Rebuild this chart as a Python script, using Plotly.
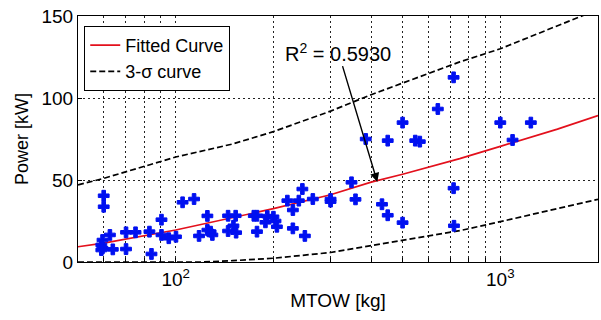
import math
import plotly.graph_objects as go

# Data points (MTOW [kg], Power [kW])
mtow = [60.0, 60.0, 62.7, 59.5, 59.0, 59.5, 59.0, 64.0, 70.3, 70.3, 75.2, 83.0, 84.2,
        90.4, 90.4, 95.2, 100.2, 105.0, 113.9, 118.0, 125.2, 125.2, 128.1, 129.7,
        145.0, 153.0, 150.6, 145.0, 153.5, 174.0, 178.0, 178.0, 189.0, 191.5, 200.0,
        203.0, 205.0, 220.8, 229.6, 229.6, 239.5, 245.6, 250.0, 264.5, 300.0, 300.0,
        348.0, 358.0, 385.0, 432.0, 450.0, 450.0, 500.0, 500.0, 547.0, 565.0, 642.0,
        718.0, 718.0, 720.0, 1000.0, 1091.0, 1242.0]
power = [40.4, 33.7, 16.5, 13.4, 10.4, 8.4, 7.3, 7.7, 18.1, 7.9, 18.1, 18.5, 4.9,
         25.8, 16.5, 14.5, 15.4, 36.4, 38.4, 15.9, 28.1, 19.5, 18.5, 16.5,
         28.2, 28.2, 22.1, 18.9, 17.9, 28.2, 28.2, 18.5, 24.2, 28.0, 27.6,
         25.0, 21.5, 37.4, 31.7, 20.5, 37.4, 44.5, 15.9, 38.4, 38.4, 36.8,
         48.6, 38.2, 75.0, 35.2, 74.0, 28.5, 85.0, 24.0, 74.0, 73.4, 93.3,
         112.6, 45.0, 22.1, 85.0, 74.4, 85.0]

# Fitted curve
fit_x = [50, 60, 100, 150, 200, 300, 400, 500, 750, 1000, 1500, 2000]
fit_y = [9.3, 11.5, 19.5, 27.0, 32.5, 41.0, 48.7, 53.5, 63.0, 70.5, 81.0, 89.3]

# 3-sigma bounds
upper_x = [50, 60, 100, 150, 200, 300, 400, 500, 750, 1000, 1500, 2000]
upper_y = [47, 51, 64, 72, 79.5, 92, 102, 109, 122, 130, 144, 154]
lower_x = [50, 120, 150, 200, 300, 500, 750, 1000, 1500, 2000]
lower_y = [0, 0, 0.8, 2.3, 5.8, 13.4, 19.1, 24.6, 32.5, 38.2]

# Axis ticks / grid
x_gridvals = [60, 70, 80, 90, 100, 200, 300, 400, 500, 600, 700, 800, 900, 1000, 2000]
x_labels = {100: "10<sup>2</sup>", 1000: "10<sup>3</sup>"}
y_ticks = [0, 50, 100, 150]

FONT = "Arial, Liberation Sans, sans-serif"
DASH = "6px,3px"

fig = go.Figure()
fig.add_trace(go.Scatter(x=fit_x, y=fit_y, mode="lines", name="Fitted Curve",
                         line=dict(color="#E3101C", width=1.7)))
fig.add_trace(go.Scatter(x=upper_x, y=upper_y, mode="lines", name="3-σ curve",
                         legendgroup="sig",
                         line=dict(color="black", width=1.7, dash=DASH)))
fig.add_trace(go.Scatter(x=lower_x, y=lower_y, mode="lines", name="3-σ curve",
                         legendgroup="sig", showlegend=False,
                         line=dict(color="black", width=1.7, dash=DASH)))
fig.add_trace(go.Scatter(x=mtow, y=power, mode="markers", showlegend=False,
                         marker=dict(symbol="cross", size=9, color="#0010F0",
                                     line=dict(width=1, color="#0010F0"))))

fig.update_layout(
    width=601, height=320,
    margin=dict(l=78, r=3, t=16, b=58),
    paper_bgcolor="white", plot_bgcolor="white",
    font=dict(family=FONT, color="black"),
    legend=dict(x=0.012, y=0.96, xanchor="left", yanchor="top",
                bordercolor="black", borderwidth=1, bgcolor="white",
                font=dict(size=18, family=FONT), tracegroupgap=0),
    showlegend=True,
)

fig.update_xaxes(
    type="log", range=[math.log10(50), math.log10(2000)],
    tickvals=x_gridvals,
    ticktext=[x_labels.get(v, "") for v in x_gridvals],
    ticks="inside", ticklen=4, tickcolor="black",
    showgrid=True, gridcolor="#222", griddash="2px,3px", gridwidth=1,
    showline=True, linecolor="black", linewidth=1, mirror=True,
    zeroline=False,
    tickfont=dict(size=19, family=FONT),
    title=dict(text="MTOW [kg]", font=dict(size=19, family=FONT), standoff=4),
)
fig.update_yaxes(
    range=[0, 150], tickvals=y_ticks,
    ticks="inside", ticklen=4, tickcolor="black",
    showgrid=True, gridcolor="#222", griddash="2px,3px", gridwidth=1,
    showline=True, linecolor="black", linewidth=1, mirror=True,
    zeroline=False,
    tickfont=dict(size=19, family=FONT),
    title=dict(text="Power [kW]", font=dict(size=18, family=FONT), standoff=8),
)

fig.add_annotation(
    x=math.log10(418), y=48.8, xref="x", yref="y",
    ax=math.log10(317), ay=128, axref="x", ayref="y",
    text="R<sup>2</sup> = 0.5930", showarrow=True,
    arrowhead=2, arrowsize=1.3, arrowwidth=1.4, arrowcolor="black",
    font=dict(size=20, family=FONT, color="black"),
    bgcolor="rgba(0,0,0,0)",
)

fig.write_html("out.html")
